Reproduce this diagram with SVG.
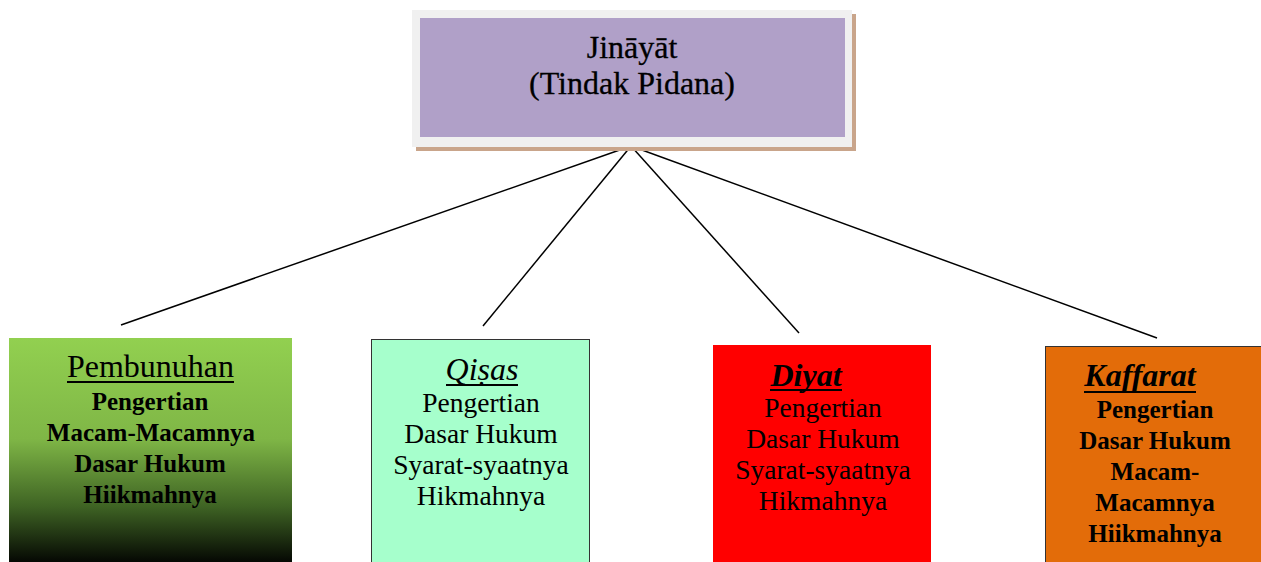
<svg xmlns="http://www.w3.org/2000/svg" width="1261" height="562" viewBox="0 0 1261 562">
<style>
text{font-family:"Liberation Serif","Times New Roman",serif;fill:#000;text-anchor:middle}
.top{font-size:32px;stroke:#000;stroke-width:0.3}
.hd{font-size:32px}
.b{font-size:25px;font-weight:bold}
.r{font-size:27.5px}
.ul{stroke:#000;stroke-width:2.2}
.conn line{stroke:#000;stroke-width:1.5}
</style>
<defs>
<linearGradient id="gGreen" x1="0" y1="0" x2="0" y2="1">
<stop offset="0" stop-color="#92d050"/>
<stop offset="0.45" stop-color="#7fb646"/>
<stop offset="0.75" stop-color="#3f6424"/>
<stop offset="1" stop-color="#050803"/>
</linearGradient>
</defs>
<rect width="1261" height="562" fill="#fff"/>
<g id="connectors" class="conn">
<line x1="631" y1="146" x2="121" y2="325"/>
<line x1="631" y1="146" x2="483" y2="326"/>
<line x1="631" y1="146" x2="799" y2="333"/>
<line x1="631" y1="146" x2="1157" y2="338"/>
</g>
<g id="jinayat">
<rect x="416" y="14" width="440" height="137" fill="#c9a58b"/>
<rect x="412" y="10" width="440" height="137" fill="#f0f0f0"/>
<rect x="420" y="18" width="425" height="119" fill="#b0a0c8"/>
<text class="top" x="632" y="58">Jināyāt</text>
<text class="top" x="632" y="94">(Tindak Pidana)</text>
</g>
<g id="pembunuhan">
<rect x="9" y="338" width="283" height="224" fill="url(#gGreen)"/>
<text class="hd" x="150.5" y="377">Pembunuhan</text>
<line class="ul" x1="67" y1="382" x2="234" y2="382"/>
<text class="b" x="150" y="410">Pengertian</text>
<text class="b" x="151" y="441">Macam-Macamnya</text>
<text class="b" x="150" y="472">Dasar Hukum</text>
<text class="b" x="150" y="503">Hiikmahnya</text>
</g>
<g id="qisas">
<rect x="371.5" y="339.5" width="218" height="223" fill="#a6ffcc" stroke="#333" stroke-width="1"/>
<text class="hd" x="482" y="380" font-style="italic">Qiṣas</text>
<line class="ul" x1="446" y1="385" x2="518" y2="385"/>
<text class="r" x="481" y="412">Pengertian</text>
<text class="r" x="481" y="443">Dasar Hukum</text>
<text class="r" x="481" y="474">Syarat-syaatnya</text>
<text class="r" x="481" y="505">Hikmahnya</text>
</g>
<g id="diyat">
<rect x="713" y="345" width="218" height="217" fill="#ff0000"/>
<text class="hd" x="806" y="386" font-style="italic" font-weight="bold">Diyat</text>
<line class="ul" x1="770" y1="390" x2="842" y2="390"/>
<text class="r" x="823" y="417">Pengertian</text>
<text class="r" x="823" y="448">Dasar Hukum</text>
<text class="r" x="823" y="479">Syarat-syaatnya</text>
<text class="r" x="823" y="510">Hikmahnya</text>
</g>
<g id="kaffarat">
<rect x="1045.5" y="346.5" width="216" height="216" fill="#e36c09" stroke="#333" stroke-width="1"/>
<text class="hd" x="1140" y="386" font-style="italic" font-weight="bold">Kaffarat</text>
<line class="ul" x1="1084" y1="392" x2="1196" y2="392"/>
<text class="b" x="1155" y="418">Pengertian</text>
<text class="b" x="1155" y="449">Dasar Hukum</text>
<text class="b" x="1155" y="480">Macam-</text>
<text class="b" x="1155" y="511">Macamnya</text>
<text class="b" x="1155" y="542">Hiikmahnya</text>
</g>
</svg>
